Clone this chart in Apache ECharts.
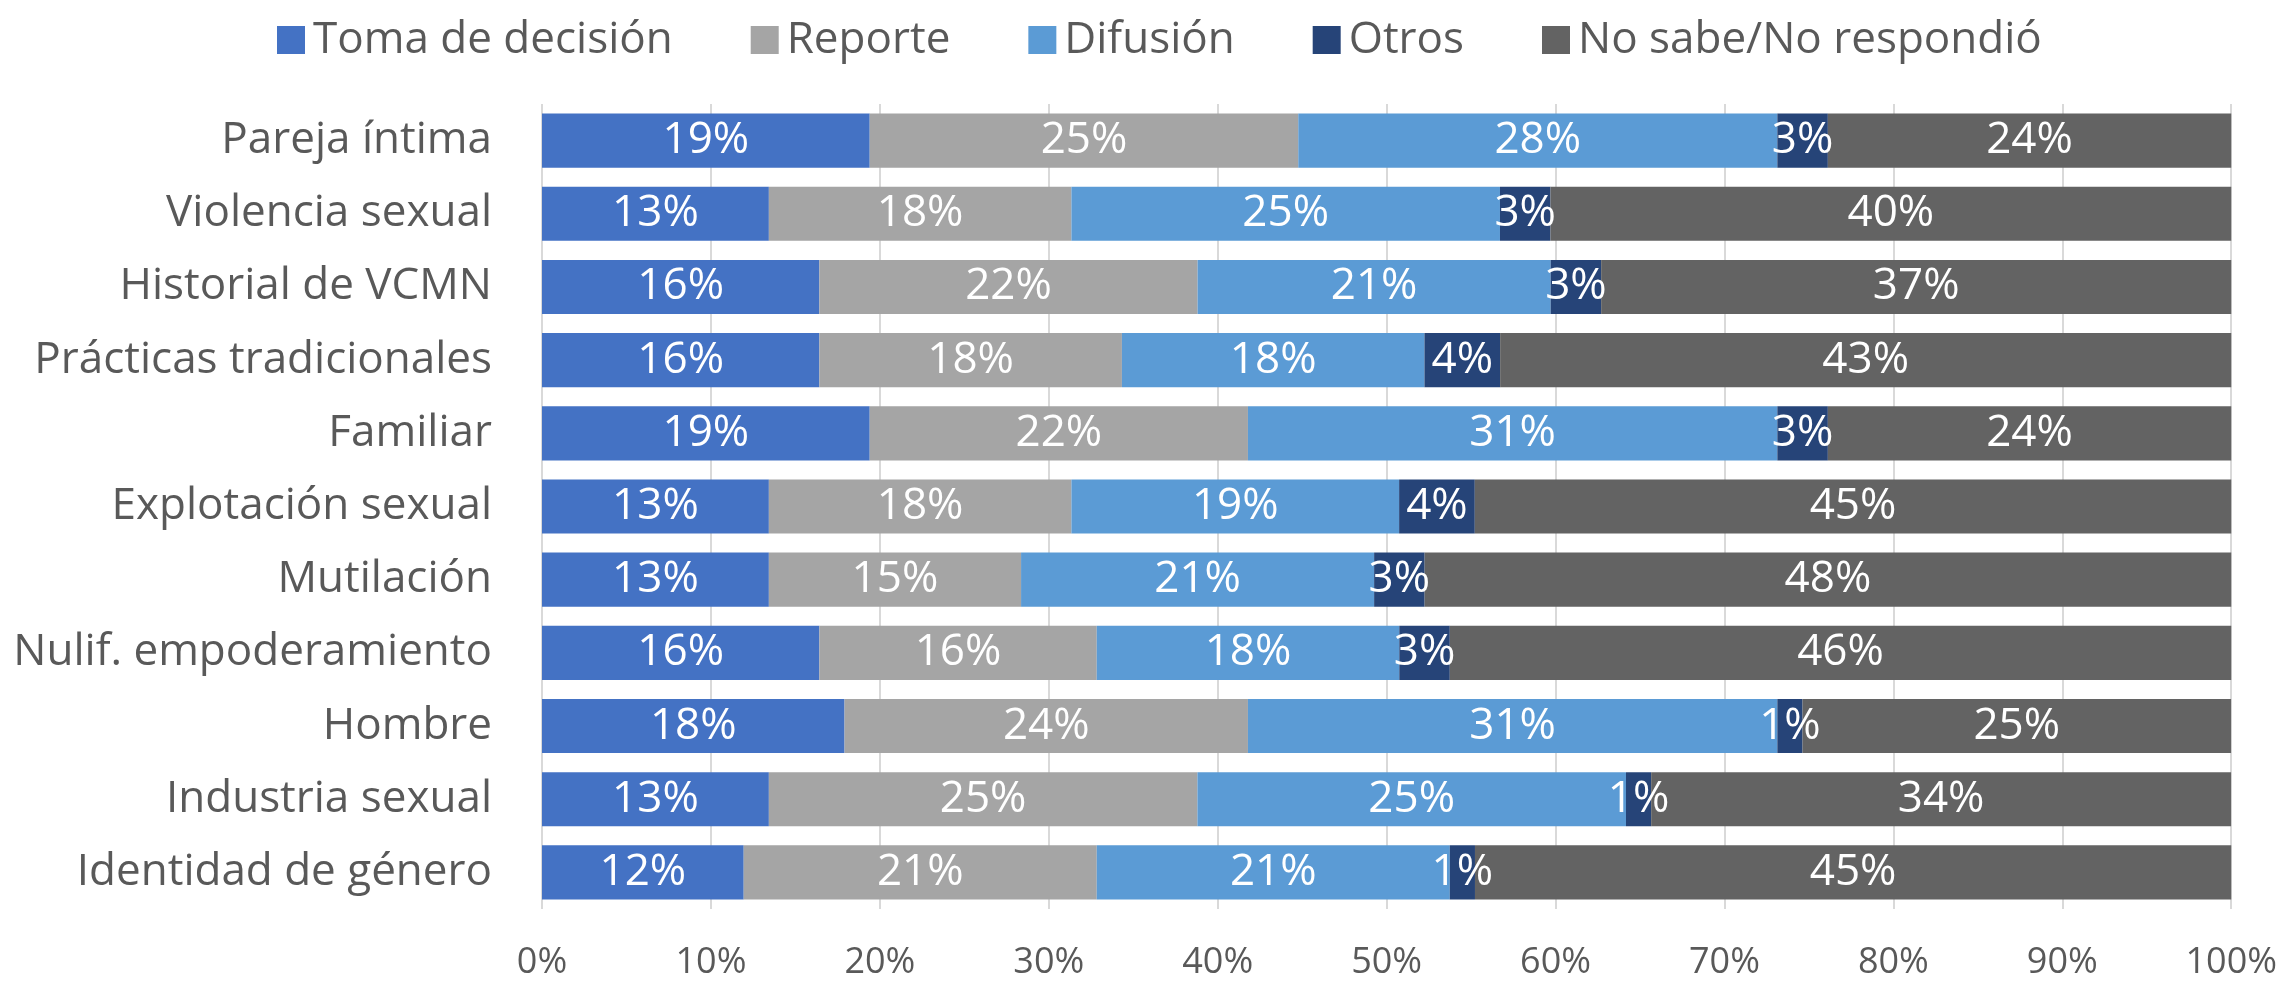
<!DOCTYPE html>
<html>
<head>
<meta charset="utf-8">
<script src="https://cdn.jsdelivr.net/npm/echarts@6/dist/echarts.min.js"></script>
<style>
  html, body { margin: 0; padding: 0; background: #fff; }
  #chart { width: 2280px; height: 981px; }
</style>
</head>
<body>
<div id="chart"></div>
<script>
// categorias, de arriba hacia abajo
const categorias = [
    'Pareja íntima', 'Violencia sexual', 'Historial de VCMN', 'Prácticas tradicionales',
    'Familiar', 'Explotación sexual', 'Mutilación', 'Nulif. empoderamiento',
    'Hombre', 'Industria sexual', 'Identidad de género'
]
const series = ['Toma de decisión', 'Reporte', 'Difusión', 'Otros', 'No sabe/No respondió']

// porcentajes por serie
const tomaDecision = [19.40, 13.43, 16.42, 16.42, 19.40, 13.43, 13.43, 16.42, 17.91, 13.43, 11.94]
const reporte      = [25.37, 17.91, 22.39, 17.91, 22.39, 17.91, 14.93, 16.42, 23.88, 25.37, 20.90]
const difusion     = [28.36, 25.37, 20.90, 17.91, 31.34, 19.40, 20.90, 17.91, 31.34, 25.37, 20.90]
const otros        = [2.99, 2.99, 2.99, 4.48, 2.99, 4.48, 2.99, 2.99, 1.49, 1.49, 1.49]
const noSabe       = [23.88, 40.30, 37.31, 43.28, 23.88, 44.78, 47.76, 46.27, 25.37, 34.33, 44.78]

const colores = ['#4472C4', '#A5A5A5', '#5B9BD5', '#264478', '#636363']
const datos = [tomaDecision, reporte, difusion, otros, noSabe]

const fuente = '"Open Sans", "Noto Sans", sans-serif'

const chart = echarts.init(document.getElementById('chart'))

const option = {
    backgroundColor: '#fff',
    animation: false,
    textStyle: { fontFamily: fuente },
    legend: {
        data: series,
        top: 13,
        left: 272,
        itemWidth: 28,
        itemHeight: 28,
        itemGap: 78,
        icon: 'rect',
        textStyle: { fontSize: 44, color: '#595959', fontFamily: fuente, padding: [0, 0, 0, 3] }
    },
    grid: { left: 542, right: 48, top: 104, bottom: 72, containLabel: false },
    xAxis: {
        type: 'value',
        min: 0,
        max: 100,
        interval: 10,
        axisLine: { show: false },
        axisTick: { show: false },
        axisLabel: { formatter: '{value}%', fontSize: 36, color: '#595959', margin: 36, fontFamily: fuente },
        splitLine: { show: true, lineStyle: { color: '#D9D9D9', width: 2 } }
    },
    yAxis: {
        type: 'category',
        inverse: true,
        data: categorias,
        axisLine: { show: false },
        axisTick: { show: false },
        axisLabel: { fontSize: 44, color: '#595959', margin: 50, fontFamily: fuente }
    },
    series: series.map((nombre, i) => ({
        name: nombre,
        type: 'bar',
        stack: 'total',
        barCategoryGap: '26%',
        itemStyle: { color: colores[i] },
        label: {
            show: true,
            position: 'inside',
            color: '#fff',
            fontSize: 44,
            fontFamily: fuente,
            formatter: p => Math.round(p.value) + '%'
        },
        data: datos[i]
    }))
}

chart.setOption(option)
</script>
</body>
</html>
